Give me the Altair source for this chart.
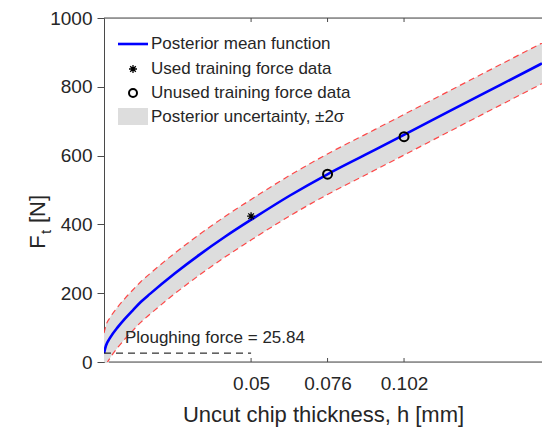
import altair as alt
import pandas as pd

# ---- data ----
h_vals = [0, 0.00068, 0.00204, 0.00476, 0.00714, 0.00986, 0.01258, 0.01564, 0.02413, 0.03263,
          0.04113, 0.05065, 0.06322, 0.0758, 0.08872, 0.10163, 0.11761, 0.1346, 0.14888]
mean_vals = [25.84, 48, 70, 102, 126, 151, 175, 198, 258, 313,
             364, 417, 484, 545, 602, 659, 730, 805, 868]
upper_vals = [84, 107, 129, 161, 185, 210, 234, 257, 317, 372,
              423, 476, 543, 604, 661, 718, 789, 864, 927]
lower_vals = [-33, -11, 11, 43, 67, 92, 116, 139, 199, 254,
              305, 358, 425, 486, 543, 600, 671, 746, 809]

used_h = [0.05]
used_F = [424]
unused_h = [0.076, 0.102]
unused_F = [546, 655]

plough_force = 25.84
plough_h_end = 0.05

x_ticks = [0.05, 0.076, 0.102]
y_ticks = [0, 200, 400, 600, 800, 1000]

legend_labels = ["Posterior mean function", "Used training force data",
                 "Unused training force data", "Posterior uncertainty, \u00b12\u03c3"]

FONT = "Liberation Sans"
TXT = "#262626"
AX = "#4a4a4a"
W, H = 438, 344

curve = pd.DataFrame({"h": h_vals, "mean": mean_vals, "upper": upper_vals, "lower": lower_vals})
used = pd.DataFrame({"h": used_h, "F": used_F})
unused = pd.DataFrame({"h": unused_h, "F": unused_F})
plough = pd.DataFrame({"h0": [0], "h1": [plough_h_end], "F": [plough_force],
                       "label": [f"Ploughing force = {plough_force}"], "ht": [0.0071]})
ticks = pd.DataFrame({"h": x_ticks})
one = pd.DataFrame({"a": [0]})

xs = alt.Scale(domain=[0, 0.1489], nice=False, zero=False)
ys = alt.Scale(domain=[0, 1000], nice=False, zero=False)

x_axis = alt.Axis(values=x_ticks, labelExpr="datum.value", ticks=False, tickSize=0,
                  labelFontSize=19, labelFont=FONT, labelColor=TXT, labelPadding=12,
                  domain=False, grid=False,
                  title="Uncut chip thickness, h [mm]", titleFontSize=22, titleFont=FONT,
                  titleFontWeight="normal", titleColor=TXT, titlePadding=11)
y_axis = alt.Axis(values=y_ticks, format="d", tickSize=7, tickColor=AX, domainColor=AX, grid=False,
                  labelFontSize=19, labelFont=FONT, labelColor=TXT, labelPadding=5,
                  title=None)

X = alt.X("h:Q", scale=xs, axis=x_axis)

band = alt.Chart(curve).mark_area(color="#dddddd", clip=True, interpolate="monotone").encode(
    x=X, y=alt.Y("lower:Q", scale=ys, axis=y_axis), y2="upper:Q")

dash_style = dict(color="#ff2a2a", strokeWidth=1.2, opacity=0.85, strokeDash=[6, 4],
                  clip=True, interpolate="monotone")
up_line = alt.Chart(curve).mark_line(**dash_style).encode(
    x=X, y=alt.Y("upper:Q", scale=ys, axis=y_axis))
low_line = alt.Chart(curve).mark_line(**dash_style).encode(
    x=X, y=alt.Y("lower:Q", scale=ys, axis=y_axis))
mean_line = alt.Chart(curve).mark_line(color="#0000ff", strokeWidth=2.6, clip=True,
                                       interpolate="monotone").encode(
    x=X, y=alt.Y("mean:Q", scale=ys, axis=y_axis))

plough_rule = alt.Chart(plough).mark_rule(color="#000000", strokeWidth=1, strokeDash=[7, 5]).encode(
    x=alt.X("h0:Q", scale=xs, axis=x_axis), x2="h1:Q", y=alt.Y("F:Q", scale=ys, axis=y_axis))
plough_text = alt.Chart(plough).mark_text(align="left", baseline="alphabetic", dy=-10,
                                          fontSize=17, font=FONT, color=TXT).encode(
    x=alt.X("ht:Q", scale=xs, axis=x_axis), y=alt.Y("F:Q", scale=ys, axis=y_axis), text="label:N")

star_path = "M-1,0L1,0M0,-1L0,1M-0.7,-0.7L0.7,0.7M-0.7,0.7L0.7,-0.7"
used_pts = alt.Chart(used).mark_point(shape=star_path, size=64, filled=False, color="#000000",
                                      strokeWidth=1.3, opacity=1).encode(
    x=alt.X("h:Q", scale=xs, axis=x_axis), y=alt.Y("F:Q", scale=ys, axis=y_axis))
unused_pts = alt.Chart(unused).mark_point(shape="circle", size=81, filled=False, color="#000000",
                                          strokeWidth=2, opacity=1).encode(
    x=alt.X("h:Q", scale=xs, axis=x_axis), y=alt.Y("F:Q", scale=ys, axis=y_axis))

# inward ticks at bottom and top, frame lines
bot_ticks = alt.Chart(ticks).mark_rule(color=AX, strokeWidth=1).encode(
    x=alt.X("h:Q", scale=xs, axis=x_axis), y=alt.value(H), y2=alt.value(H - 4))
top_ticks = alt.Chart(ticks).mark_rule(color=AX, strokeWidth=1).encode(
    x=alt.X("h:Q", scale=xs, axis=x_axis), y=alt.value(0), y2=alt.value(4))
top_line = alt.Chart(one).mark_rule(color=AX, strokeWidth=1).encode(
    x=alt.value(0), x2=alt.value(W), y=alt.value(0))
bot_line = alt.Chart(one).mark_rule(color=AX, strokeWidth=1).encode(
    x=alt.value(5), x2=alt.value(W), y=alt.value(H))

# legend (drawn manually, MATLAB style without box)
LX0, LX1, LT = 14, 44, 47
rows = [26, 51, 75, 99]
leg_line = alt.Chart(one).mark_rule(color="#0000ff", strokeWidth=2.6).encode(
    x=alt.value(LX0), x2=alt.value(LX1), y=alt.value(rows[0]))
leg_star = alt.Chart(one).mark_point(shape=star_path, size=64, filled=False, color="#000000",
                                     strokeWidth=1.3, opacity=1).encode(
    x=alt.value((LX0 + LX1) / 2), y=alt.value(rows[1]))
leg_circ = alt.Chart(one).mark_point(shape="circle", size=64, filled=False, color="#000000",
                                     strokeWidth=2, opacity=1).encode(
    x=alt.value((LX0 + LX1) / 2), y=alt.value(rows[2]))
leg_rect = alt.Chart(one).mark_rect(color="#dddddd").encode(
    x=alt.value(LX0), x2=alt.value(LX1), y=alt.value(rows[3] - 9), y2=alt.value(rows[3] + 8))
leg_texts = []
for lab, ry in zip(legend_labels, rows):
    leg_texts.append(alt.Chart(one).mark_text(align="left", baseline="middle", fontSize=17,
                                              font=FONT, color=TXT, text=lab).encode(
        x=alt.value(LT), y=alt.value(ry)))

# y title F_t [N]
yt_F = alt.Chart(one).mark_text(angle=270, align="center", baseline="middle", fontSize=22,
                                font=FONT, color=TXT, text="F").encode(x=alt.value(-66), y=alt.value(224))
yt_t = alt.Chart(one).mark_text(angle=270, align="center", baseline="middle", fontSize=15,
                                font=FONT, color=TXT, text="t").encode(x=alt.value(-58), y=alt.value(214))
yt_N = alt.Chart(one).mark_text(angle=270, align="center", baseline="middle", fontSize=22,
                                font=FONT, color=TXT, text="[N]").encode(x=alt.value(-66), y=alt.value(191))

chart = alt.layer(
    band, up_line, low_line, mean_line, plough_rule, plough_text, used_pts, unused_pts,
    bot_ticks, top_ticks, top_line, bot_line,
    leg_line, leg_star, leg_circ, leg_rect, *leg_texts, yt_F, yt_t, yt_N
).properties(
    width=W, height=H,
    autosize=alt.AutoSizeParams(type="none"),
    padding={"left": 104, "top": 18, "right": 0, "bottom": 65},
).configure_view(stroke=None).configure(background="white")

chart.save("out.html", embed_options={"renderer": "svg", "actions": False})
